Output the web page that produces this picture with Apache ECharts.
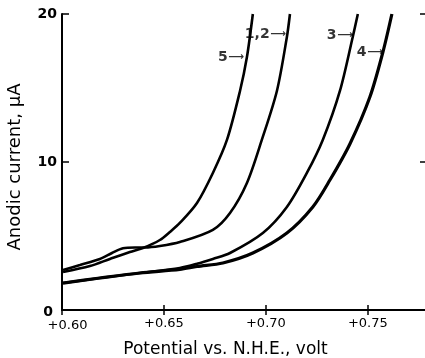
<!DOCTYPE html>
<html><head><meta charset="utf-8">
<script src="https://cdn.jsdelivr.net/npm/echarts@6/dist/echarts.min.js"></script>
<style>html,body{margin:0;padding:0;background:#fff}#c{width:425px;height:358px}</style>
</head><body><div id="c"></div>
<script>
// Potential (V vs N.H.E.), anodic current (uA)
const curve5 = [[0.6005,2.57],[0.6137,2.97],[0.6235,3.45],[0.6333,3.92],[0.6397,4.19],[0.6480,4.73],[0.6529,5.27],[0.6578,5.88],[0.6662,7.23],[0.6740,9.26],[0.6809,11.49],[0.6873,14.80],[0.6907,17.09],[0.6936,20.0]];
const curve12 = [[0.6005,2.70],[0.6088,3.04],[0.6186,3.45],[0.6245,3.85],[0.6299,4.17],[0.6358,4.22],[0.6407,4.22],[0.6480,4.32],[0.6578,4.59],[0.6740,5.41],[0.6824,6.55],[0.6907,8.58],[0.6980,11.49],[0.7054,14.80],[0.7103,18.45],[0.7118,20.0]];
const curve3 = [[0.6005,1.82],[0.6186,2.16],[0.6382,2.50],[0.6578,2.84],[0.6662,3.12],[0.6740,3.45],[0.6824,3.85],[0.6985,5.20],[0.7103,6.96],[0.7201,9.26],[0.7279,11.49],[0.7363,14.80],[0.7426,18.45],[0.7451,20.0]];
const curve4 = [[0.6005,1.82],[0.6186,2.16],[0.6382,2.50],[0.6578,2.74],[0.6662,2.94],[0.6789,3.18],[0.6936,3.85],[0.7103,5.20],[0.7230,6.96],[0.7314,8.78],[0.7412,11.22],[0.7510,14.39],[0.7574,17.43],[0.7618,20.0]];
const curveLabels = [[0.6897,17.09,'5'],[0.7103,18.65,'1,2'],[0.7431,18.58,'3'],[0.7578,17.43,'4']];
const xName = 'Potential vs. N.H.E., volt';
const yName = 'Anodic current, \u03bcA';

const FONT = 'DejaVu Sans';
const chart = echarts.init(document.getElementById('c'));
function lineSeries(data, w) {
  return {type:'line', data:data, symbol:'none', smooth:0.3, xAxisIndex:0, yAxisIndex:0,
    lineStyle:{color:'#000', width:w}, z:3};
}
chart.setOption({
  animation:false,
  backgroundColor:'#fff',
  grid:{left:62, right:-4, top:14, bottom:48, containLabel:false, outerBoundsMode:'none'},
  xAxis:[{
    type:'value', min:0.60, max:0.78, interval:0.05, position:'bottom',
    name:xName, nameLocation:'middle', nameGap:31,
    nameTextStyle:{fontFamily:FONT, fontSize:17, color:'#000', padding:[0,40,0,0]},
    axisLine:{lineStyle:{color:'#000', width:2}},
    axisTick:{inside:true, length:5, lineStyle:{color:'#000', width:1.5}},
    splitLine:{show:false},
    axisLabel:{fontFamily:FONT, fontSize:13, color:'#000', margin:7, showMaxLabel:false,
      formatter:function(v){ var s='+'+v.toFixed(2); return Math.abs(v-0.60)<1e-6 ? '{f|'+s+'}' : s; },
      rich:{f:{fontFamily:FONT, fontSize:13, color:'#000', padding:[2,0,0,11]}}}
  },{
    type:'value', min:0.60, max:0.78, interval:0.05, position:'top',
    axisLine:{lineStyle:{color:'#000', width:2}},
    axisTick:{inside:true, length:5, lineStyle:{color:'#000', width:1.5}},
    axisLabel:{show:false}, splitLine:{show:false}
  }],
  yAxis:[{
    type:'value', min:0, max:20, interval:10, position:'left',
    name:yName, nameLocation:'middle', nameGap:38,
    nameTextStyle:{fontFamily:FONT, fontSize:18, color:'#000', padding:[0,10,0,0]},
    axisLine:{lineStyle:{color:'#000', width:2}},
    axisTick:{inside:true, length:7, lineStyle:{color:'#000', width:1.5}},
    splitLine:{show:false},
    axisLabel:{fontFamily:FONT, fontSize:14, fontWeight:'bold', color:'#000', margin:5,
      formatter:function(v){ return v===0 ? '{z|0}' : String(v); },
      rich:{z:{fontFamily:FONT, fontSize:14, fontWeight:'bold', color:'#000', padding:[4,4,0,0]}}}
  },{
    type:'value', min:0, max:20, interval:10, position:'right',
    axisLine:{lineStyle:{color:'#000', width:2}},
    axisTick:{inside:true, length:9, lineStyle:{color:'#000', width:1.5}},
    axisLabel:{show:false}, splitLine:{show:false}
  }],
  series:[
    lineSeries(curve5, 2.6),
    lineSeries(curve12, 2.6),
    lineSeries(curve3, 2.6),
    lineSeries(curve4, 3.2),
    {type:'scatter', symbol:'circle', symbolSize:1, itemStyle:{color:'rgba(0,0,0,0)'},
      xAxisIndex:0, yAxisIndex:0, z:5, silent:true,
      data:curveLabels.map(function(d){return {value:[d[0],d[1]], name:d[2]};}),
      label:{show:true, position:'left', distance:0, color:'#000',
        formatter:function(p){ return '{n|'+p.name+'}{a|\u27f6}'; },
        rich:{n:{fontFamily:FONT, fontSize:14, fontWeight:'bold', color:'#000', padding:[0,1,0,0]},
              a:{fontFamily:FONT, fontSize:11, fontWeight:'bold', color:'#000'}}}
    }
  ]
});
</script></body></html>
